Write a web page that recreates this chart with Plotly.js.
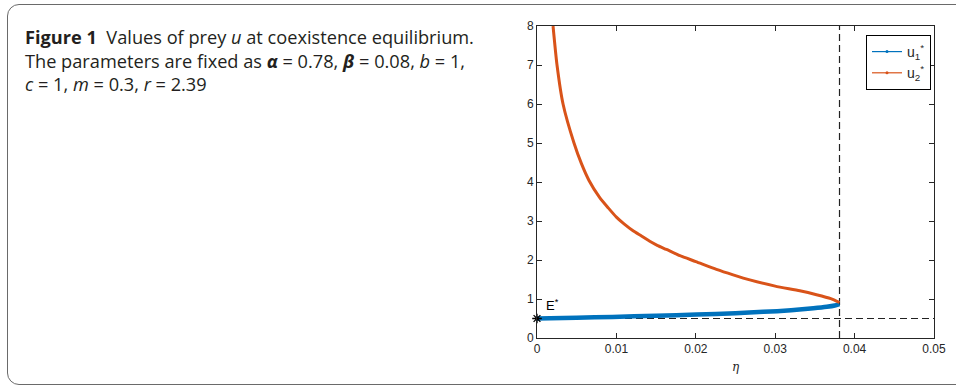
<!DOCTYPE html>
<html>
<head>
<meta charset="utf-8">
<script src="https://cdn.plot.ly/plotly-3.0.1.min.js"></script>
<style>
  html, body { margin: 0; padding: 0; background: #fff; }
  #wrap { position: relative; width: 956px; height: 390px; overflow: hidden; }
  #frame { position: absolute; left: 7px; top: 4px; width: 980px; height: 381px;
           border: 1.6px solid #6a6a6a; border-radius: 12px; box-sizing: border-box; pointer-events: none; }
  #chart { position: absolute; left: 0; top: 0; width: 956px; height: 390px; }
</style>
</head>
<body>
<div id="wrap">
  <div id="frame"></div>
  <div id="chart"></div>
</div>
<script>
// Data
const etaU1 = [0, 0.0050, 0.0095, 0.0150, 0.0201, 0.0250, 0.0285, 0.0320, 0.0348, 0.0365, 0.0375, 0.0381];
const u1    = [0.50, 0.52, 0.54, 0.57, 0.60, 0.635, 0.67, 0.71, 0.76, 0.80, 0.835, 0.87];

const etaU2 = [0.00202, 0.00252, 0.00328, 0.00466, 0.0056, 0.00655, 0.0079, 0.0090, 0.0100, 0.0110, 0.0121, 0.0132, 0.0142, 0.0152, 0.0163,
               0.0180, 0.0200, 0.0226, 0.0247, 0.0268, 0.0300, 0.0331, 0.0352, 0.0370, 0.0381];
const u2    = [8.0, 7.0, 6.0, 5.0, 4.47, 4.04, 3.60, 3.33, 3.10, 2.92, 2.75, 2.61, 2.48, 2.37, 2.27,
               2.11, 1.96, 1.76, 1.62, 1.49, 1.33, 1.21, 1.11, 1.01, 0.91];

const etaCritical = 0.0381;   // vertical dashed line
const uEquilibrium = 0.5;     // horizontal dashed line / E*
const xRange = [0, 0.05];
const yRange = [0, 8];
const xTicks = [0, 0.01, 0.02, 0.03, 0.04, 0.05];
const xTickLabels = ["0", "0.01", "0.02", "0.03", "0.04", "0.05"];
const yTicks = [0, 1, 2, 3, 4, 5, 6, 7, 8];
const seriesNames = ['u<sub>1</sub><sup>*</sup>', 'u<sub>2</sub><sup>*</sup>'];

const blue = '#0072BD', orange = '#D95319', axisCol = '#262626';
const sansFont = 'Liberation Sans, Arial, sans-serif';

const traces = [
  { x: [etaCritical, etaCritical], y: yRange, mode: 'lines', showlegend: false, hoverinfo: 'skip',
    line: { color: '#222', width: 1.2, dash: '7px,4px' } },
  { x: xRange, y: [uEquilibrium, uEquilibrium], mode: 'lines', showlegend: false, hoverinfo: 'skip',
    line: { color: '#222', width: 1.2, dash: '7px,4px' } },
  { x: etaU1, y: u1, mode: 'lines', showlegend: false,
    line: { color: blue, width: 4.5, shape: 'spline', smoothing: 0.6 } },
  { x: etaU2, y: u2, mode: 'lines', showlegend: false,
    line: { color: orange, width: 3, shape: 'spline', smoothing: 0.6 } },
  // legend entries (thin line with a dot marker, as in the reference)
  { x: [null], y: [null], mode: 'lines+markers', name: seriesNames[0],
    line: { color: blue, width: 1.2 }, marker: { color: blue, size: 3 } },
  { x: [null], y: [null], mode: 'lines+markers', name: seriesNames[1],
    line: { color: orange, width: 1.2 }, marker: { color: orange, size: 3 } },
  { x: [0], y: [uEquilibrium], mode: 'markers', showlegend: false, cliponaxis: false,
    marker: { symbol: 'asterisk-open', size: 8, color: '#000', line: { color: '#000', width: 1.3 } } }
];

const tickFont = { family: sansFont, size: 12, color: axisCol };
const capFont = { family: 'Open Sans, Noto Sans, sans-serif', size: 18.2, color: '#231f20' };

const plotLeft = 537, plotRight = 934, plotTop = 26, plotBottom = 338;
const pw = plotRight - plotLeft, ph = plotBottom - plotTop;
const px = v => (v - plotLeft) / pw;
const py = v => (plotBottom - v) / ph;

const layout = {
  width: 956, height: 390,
  margin: { l: plotLeft, r: 956 - plotRight, t: plotTop, b: 390 - plotBottom, pad: 0 },
  paper_bgcolor: 'rgba(0,0,0,0)', plot_bgcolor: '#fff',
  font: tickFont,
  xaxis: {
    range: xRange, tickvals: xTicks, ticktext: xTickLabels, ticks: 'inside', ticklen: 5, tickcolor: axisCol,
    showline: true, linecolor: axisCol, linewidth: 1, mirror: 'ticks', showgrid: false, zeroline: false,
    tickfont: tickFont,
    title: { text: '<i>η</i>', font: { family: 'DejaVu Serif, serif', size: 12, color: axisCol }, standoff: 7 }
  },
  yaxis: {
    range: yRange, tickvals: yTicks, ticks: 'inside', ticklen: 5, tickcolor: axisCol,
    showline: true, linecolor: axisCol, linewidth: 1, mirror: 'ticks', showgrid: false, zeroline: false,
    tickfont: tickFont
  },
  legend: {
    x: px(866), y: py(35), xanchor: 'left', yanchor: 'top',
    bgcolor: '#fff', bordercolor: '#000', borderwidth: 1,
    font: { family: sansFont, size: 14, color: axisCol },
    itemwidth: 30, tracegroupgap: 0
  },
  annotations: [
    { xref: 'x', yref: 'y', x: 0.0009, y: 0.85, text: 'E<sup>*</sup>', showarrow: false,
      xanchor: 'left', yanchor: 'middle', font: { family: sansFont, size: 13, color: '#000' } },
    { xref: 'paper', yref: 'paper', x: px(23), y: py(23), xanchor: 'left', yanchor: 'top', align: 'left',
      showarrow: false, font: capFont,
      text: '<b>Figure 1</b>  Values of prey <i>u</i> at coexistence equilibrium.<br>' +
            'The parameters are fixed as <b><i>α</i></b> = 0.78, <b><i>β</i></b> = 0.08, <i>b</i> = 1,<br>' +
            '<i>c</i> = 1, <i>m</i> = 0.3, <i>r</i> = 2.39' }
  ],
  showlegend: true
};

Plotly.newPlot('chart', traces, layout, { displayModeBar: false, staticPlot: true });
</script>
</body>
</html>
